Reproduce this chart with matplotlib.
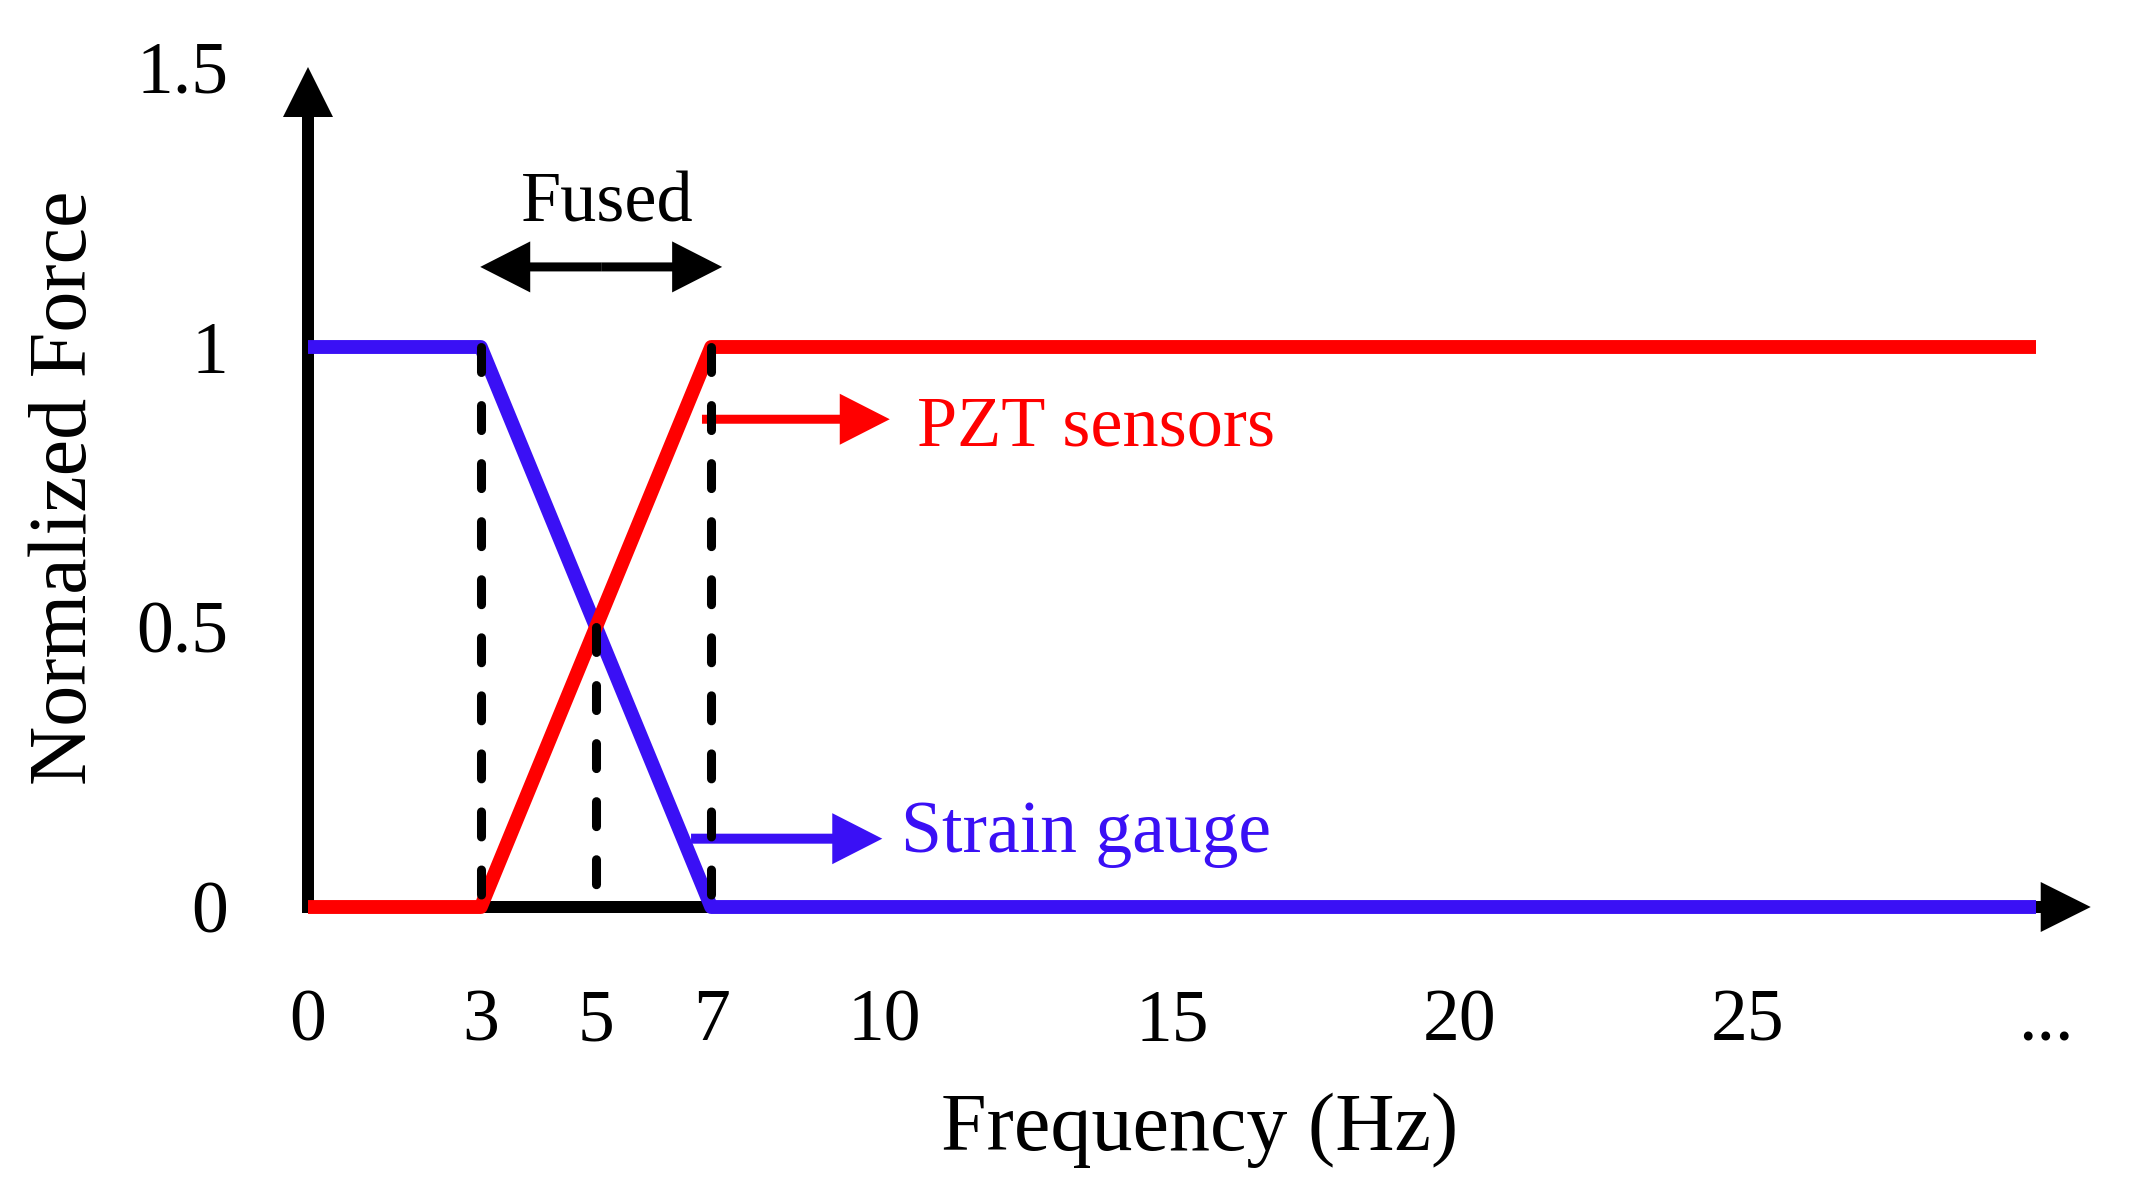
import matplotlib
matplotlib.use("Agg")
import matplotlib.pyplot as plt
import matplotlib.transforms as mtransforms

plt.rcParams['font.family'] = ['Liberation Serif', 'DejaVu Serif']
plt.rcParams['lines.scale_dashes'] = False

# ---- data ----
freq_ticks = [0, 3, 5, 7, 10, 15, 20, 25, 30]
freq_labels = ['0', '3', '5', '7', '10', '15', '20', '25', '...']
force_ticks = [0, 0.5, 1, 1.5]
force_labels = ['0', '0.5', '1', '1.5']

strain_freq = [0, 3, 7, 30]
strain_force = [1, 1, 0, 0]
pzt_freq = [0, 3, 7, 30]
pzt_force = [0, 0, 1, 1]

guide_freq = [3, 5, 7]
guide_top = [1, 0.5, 1]

RED = '#FF0000'
BLUE = '#3A10F5'

W, H = 2148, 1191
PX_X0, PX_Y0 = 308, 907      # pixel position of origin
SX, SY = 57.6, 560.0         # pixels per data unit

fig = plt.figure(figsize=(W / 100, H / 100), dpi=100)
ax = fig.add_axes([PX_X0 / W, (H - PX_Y0) / H, (W - PX_X0) / W, PX_Y0 / H])
ax.set_xlim(0, (W - PX_X0) / SX)
ax.set_ylim(0, PX_Y0 / SY)
for s in ax.spines.values():
    s.set_visible(False)

# axis arrows
ax.arrow(-6 / SX, 0, 30.95 + 6 / SX, 0, width=12 / SY, head_width=50 / SY,
         head_length=50 / SX, length_includes_head=True, lw=0, fc='k',
         clip_on=False, zorder=1)
ax.arrow(0, -6 / SY, 0, 1.5 + 6 / SY, width=12 / SX, head_width=50 / SX,
         head_length=50 / SY, length_includes_head=True, lw=0, fc='k',
         clip_on=False, zorder=1)

# curves
ax.plot(strain_freq, strain_force, color=BLUE, lw=10, solid_capstyle='butt',
        solid_joinstyle='round', clip_on=False, zorder=2)
ax.plot(pzt_freq, pzt_force, color=RED, lw=10, solid_capstyle='butt',
        solid_joinstyle='round', clip_on=False, zorder=3)

# dashed guides
for f, t in zip(guide_freq, guide_top):
    ax.plot([f, f], [t, 0], color='k', lw=6.5, dashes=(18, 23.8),
            dash_capstyle='round', clip_on=False, zorder=5)

# annotation arrows
ax.arrow(6.84, 0.871, 10.1 - 6.84, 0, width=9 / SY, head_width=51 / SY,
         head_length=50 / SX, length_includes_head=True, lw=0, fc=RED, zorder=4)
ax.arrow(6.65, 0.122, 9.97 - 6.65, 0, width=10 / SY, head_width=51 / SY,
         head_length=50 / SX, length_includes_head=True, lw=0, fc=BLUE, zorder=4)
c = 5.09
for end in (2.99, 7.19):
    ax.arrow(c, 1.143, end - c, 0, width=9 / SY, head_width=51 / SY,
             head_length=50 / SX, length_includes_head=True, lw=0, fc='k', zorder=4)

ax.text(5.2, 1.225, 'Fused', fontsize=52, ha='center', va='baseline', color='k')
ax.text(10.57, 0.825, 'PZT sensors', fontsize=52, ha='left', va='baseline', color=RED)
ax.text(10.3, 0.098, 'Strain gauge', fontsize=53, ha='left', va='baseline', color=BLUE)

# ticks
ax.set_xticks(freq_ticks)
ax.set_xticklabels(freq_labels, fontsize=53)
ax.set_yticks(force_ticks)
ax.set_yticklabels(force_labels, fontsize=53)
ax.tick_params(axis='x', length=0, pad=59)
ax.tick_params(axis='y', length=0, pad=57.5)
last = ax.get_xticklabels()[-1]
last.set_transform(last.get_transform() +
                   mtransforms.ScaledTranslation(0.1, 0, fig.dpi_scale_trans))

ax.set_xlabel('Frequency (Hz)', fontsize=59, va='baseline')
ax.xaxis.set_label_coords((1200 - PX_X0) / (W - PX_X0), (PX_Y0 - 1150) / PX_Y0)
ax.set_ylabel('Normalized Force', fontsize=59, va='center')
ax.yaxis.set_label_coords((66 - PX_X0) / (W - PX_X0), (PX_Y0 - 488) / PX_Y0)

fig.savefig('out.png', dpi=100, facecolor='white')
